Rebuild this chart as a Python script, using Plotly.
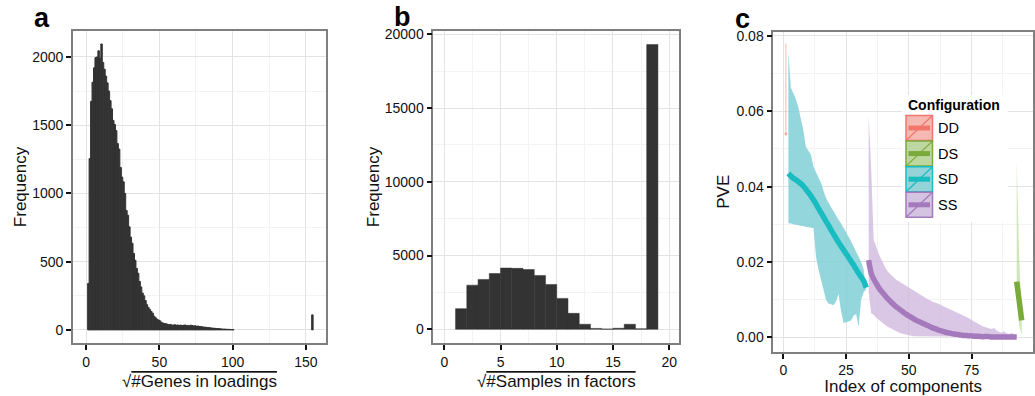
import plotly.graph_objects as go

# ---------------- data ----------------
# Panel a: histogram of sqrt(#genes in loadings), bin width 1
genes_bin_start = list(range(1, 101)) + [154]
genes_counts = [
    340, 1255, 1675, 1815, 1920, 1995, 2000, 2045, 1990, 2095,
    1960, 1910, 1860, 1810, 1750, 1680, 1620, 1535, 1505, 1460,
    1365, 1325, 1190, 1120, 1085, 1000, 875, 840, 755, 680,
    635, 560, 510, 450, 415, 355, 315, 270, 250, 215,
    185, 165, 150, 135, 122, 100, 88, 78, 72, 66,
    55, 50, 46, 45, 42, 38, 40, 36, 35, 38,
    34, 36, 33, 35, 32, 34, 36, 31, 33, 30,
    34, 32, 29, 30, 27, 28, 25, 24, 22, 20,
    20, 18, 17, 16, 14, 13, 12, 11, 10, 9,
    8, 7, 6, 6, 5, 4, 4, 3, 3, 2,
    110,
]

# Panel b: histogram of sqrt(#samples in factors), bin width 1
samples_bin_start = list(range(1, 19))
samples_counts = [1400, 2990, 3380, 3780, 4150, 4130, 4050, 3650, 3040, 2095,
                  1080, 340, 60, 20, 70, 340, 30, 19300]

# Panel c: PVE by index of components, per configuration
dd_idx = [1]
dd_pve = [0.054]
dd_lo = [0.0535]
dd_hi = [0.078]

ds_idx = [93, 94, 95]
ds_pve = [0.0148, 0.0097, 0.0045]
ds_lo = [0.011, 0.003, 0.0005]
ds_hi = [0.047, 0.021, 0.006]

sd_idx = list(range(2, 34))
sd_pve = [0.0435, 0.0428, 0.0422, 0.0418, 0.0413, 0.0408, 0.0401, 0.0393, 0.0384, 0.0375,
          0.0365, 0.0354, 0.0342, 0.0331, 0.0320, 0.0308, 0.0297, 0.0285, 0.0274, 0.0263,
          0.0252, 0.0242, 0.0232, 0.0222, 0.0212, 0.0202, 0.0192, 0.0181, 0.0170, 0.0160,
          0.0150, 0.0132]
sd_lo = [0.0303, 0.0302, 0.0300, 0.0298, 0.0296, 0.0295, 0.0294, 0.0293, 0.0292, 0.0291,
         0.0290, 0.0215, 0.0180, 0.0150, 0.0125, 0.0100, 0.0090, 0.0088, 0.0085, 0.0095,
         0.0115, 0.0070, 0.0038, 0.0040, 0.0042, 0.0045, 0.0058, 0.0062, 0.0028, 0.0100,
         0.0120, 0.0128]
sd_hi = [0.0759, 0.0662, 0.0648, 0.0632, 0.0610, 0.0580, 0.0548, 0.0505, 0.0495, 0.0485,
         0.0453, 0.0440, 0.0425, 0.0410, 0.0390, 0.0370, 0.0357, 0.0345, 0.0333, 0.0322,
         0.0312, 0.0302, 0.0290, 0.0280, 0.0270, 0.0255, 0.0241, 0.0228, 0.0215, 0.0200,
         0.0180, 0.0140]

ss_idx = list(range(34, 94))
ss_pve = [0.0205, 0.0170, 0.0155, 0.0143, 0.0132, 0.0123, 0.0115, 0.0107, 0.0100, 0.0093,
          0.0087, 0.0081, 0.0076, 0.0071, 0.0066, 0.0061, 0.0057, 0.0053, 0.0049, 0.0045,
          0.0042, 0.0039, 0.0036, 0.0033, 0.0030, 0.0027, 0.0024, 0.0022, 0.0019, 0.0017,
          0.0015, 0.0013, 0.0012, 0.0010, 0.0009, 0.0008, 0.0007, 0.0006, 0.0005, 0.0005,
          0.0004, 0.0004, 0.0003, 0.0003, 0.0003, 0.0002, 0.0002, 0.0002, 0.0002, 0.0001,
          0.0001, 0.0001, 0.0001, 0.0001, 0.0001, 0.0001, 0.0001, 0.0001, 0.0001, 0.0001]
ss_lo = [0.0120, 0.0064, 0.0060, 0.0052, 0.0046, 0.0040, 0.0036, 0.0031, 0.0027, 0.0022,
         0.0019, 0.0016, 0.0013, 0.0010, 0.0008, 0.0006, 0.0005, 0.0004, 0.0003, 0.0002,
         0.0001, 0.0001, 0.0001, 0.0001, 0.0001, 0.0001, 0.0001, 0.0001, 0.0001, 0.0001,
         0.0001, 0.0001, 0.0001, 0.0001, 0.0001, 0.0001, 0.0001, 0.0001, 0.0001, 0.0001,
         0.0001, 0.0001, 0.0001, 0.0001, 0.0001, 0.0001, 0.0001, 0.0001, 0.0001, 0.0001,
         0.0001, 0.0001, 0.0001, 0.0001, 0.0001, 0.0001, 0.0001, 0.0001, 0.0001, 0.0001]
ss_hi = [0.0590, 0.0450, 0.0260, 0.0238, 0.0222, 0.0207, 0.0193, 0.0181, 0.0172, 0.0165,
         0.0158, 0.0153, 0.0149, 0.0145, 0.0141, 0.0137, 0.0134, 0.0130, 0.0126, 0.0121,
         0.0117, 0.0113, 0.0108, 0.0103, 0.0099, 0.0096, 0.0093, 0.0091, 0.0089, 0.0086,
         0.0082, 0.0079, 0.0077, 0.0073, 0.0070, 0.0067, 0.0064, 0.0061, 0.0057, 0.0054,
         0.0050, 0.0046, 0.0042, 0.0037, 0.0033, 0.0031, 0.0028, 0.0026, 0.0024, 0.0022,
         0.0025, 0.0018, 0.0014, 0.0012, 0.0016, 0.0010, 0.0009, 0.0012, 0.0008, 0.0006]

config_names = ["DD", "DS", "SD", "SS"]
config_line = ["#F3766C", "#7AAA3A", "#19BCC0", "#A57ABC"]
config_key_fill = ["#F5B9B4", "#BED7A0", "#94D4D8", "#D4C3E1"]
config_ribbon = ["rgba(243,118,108,0.35)", "rgba(150,200,100,0.45)",
                 "rgba(120,205,212,0.80)", "rgba(205,180,220,0.75)"]

# ---------------- figure ----------------
W, H = 1035, 396
FONT = "Liberation Sans, Arial, Helvetica, sans-serif"
BAR = "#333333"


def px(x):
    return x / W


def py(y):
    return 1 - y / H


fig = go.Figure()

# Panel a histogram
fig.add_trace(go.Bar(
    x=[s + 0.5 for s in genes_bin_start], y=genes_counts, width=1,
    marker=dict(color=BAR, line=dict(color=BAR, width=1)),
    xaxis="x", yaxis="y", showlegend=False))

# Panel b histogram
fig.add_trace(go.Bar(
    x=[s + 0.5 for s in samples_bin_start], y=samples_counts, width=1,
    marker=dict(color=BAR, line=dict(color=BAR, width=0.5)),
    xaxis="x2", yaxis="y2", showlegend=False))


def ribbon(idx, lo, hi, color):
    return go.Scatter(
        x=list(idx) + list(idx)[::-1], y=list(hi) + list(lo)[::-1],
        fill="toself", fillcolor=color, mode="lines", line=dict(width=0),
        xaxis="x3", yaxis="y3", showlegend=False, hoverinfo="skip")


# DD: single component - thin vertical band plus tiny point
fig.add_trace(go.Scatter(x=dd_idx * 2, y=[dd_lo[0], dd_hi[0]], mode="lines",
                         line=dict(color=config_ribbon[0], width=1.5),
                         xaxis="x3", yaxis="y3", showlegend=False))
fig.add_trace(go.Scatter(x=dd_idx, y=dd_pve, mode="markers",
                         marker=dict(color="rgba(243,118,108,0.5)", size=3),
                         xaxis="x3", yaxis="y3", showlegend=False))

fig.add_trace(ribbon(sd_idx, sd_lo, sd_hi, config_ribbon[2]))
fig.add_trace(ribbon(ss_idx, ss_lo, ss_hi, config_ribbon[3]))
fig.add_trace(ribbon(ds_idx, ds_lo, ds_hi, config_ribbon[1]))

for idx, vals, col in [(sd_idx, sd_pve, config_line[2]),
                       (ss_idx, ss_pve, config_line[3]),
                       (ds_idx, ds_pve, config_line[1])]:
    fig.add_trace(go.Scatter(x=idx, y=vals, mode="lines",
                             line=dict(color=col, width=5.5, shape="spline", smoothing=0.6),
                             xaxis="x3", yaxis="y3", showlegend=False))

# ---------------- axes ----------------
GRID = "#E3E3E3"
MINOR = "#F3F3F3"


def ax(domain, rng, dtick, minor_dtick, anchor, tickfmt=None):
    d = dict(domain=domain, range=rng, anchor=anchor, dtick=dtick, tick0=0,
             showgrid=True, gridcolor=GRID, gridwidth=1.3,
             minor=dict(dtick=minor_dtick, tick0=0, showgrid=True,
                        gridcolor=MINOR, gridwidth=1.0, ticks=""),
             zeroline=False, showline=True, mirror=True,
             linecolor="#7F7F7F", linewidth=1.6, automargin=False,
             ticks="outside", ticklen=5, tickwidth=1.8, tickcolor="#111111",
             tickfont=dict(family=FONT, size=14, color="#111111"),
             fixedrange=True)
    if tickfmt:
        d["tickformat"] = tickfmt
    return d


ya_dom = [py(343), py(31)]
yc_dom = [py(351.7), py(31.7)]

layout = dict(
    template="none",
    width=W, height=H, margin=dict(l=0, r=0, t=0, b=0, autoexpand=False),
    paper_bgcolor="white", plot_bgcolor="white",
    font=dict(family=FONT, color="#111111"),
    xaxis=ax([px(73), px(326)], [-9, 163.8], 50, 25, "y", "d"),
    yaxis=ax(ya_dom, [-96, 2190], 500, 250, "x", "d"),
    xaxis2=ax([px(433.3), px(679.3)], [-0.98, 20.9], 5, 2.5, "y2", "d"),
    yaxis2=ax(ya_dom, [-930, 20220], 5000, 2500, "x2", "d"),
    xaxis3=ax([px(773.3), px(1033)], [-4, 99.5], 25, 12.5, "y3", "d"),
    yaxis3=ax(yc_dom, [-0.0038, 0.0811], 0.02, 0.01, "x3", ".2f"),
    showlegend=False,
)
layout["yaxis"]["title"] = dict(text="Frequency", font=dict(size=17))
layout["yaxis2"]["title"] = dict(text="Frequency", font=dict(size=17))
layout["yaxis3"]["title"] = dict(text="PVE", font=dict(size=17))
layout["xaxis3"]["title"] = dict(text="Index of components", font=dict(size=17))
fig.update_layout(**layout)

annotations = []
# x titles with radical sign
for xc, label in [((73 + 326) / 2, "#Genes in loadings"),
                  ((433.3 + 679.3) / 2, "#Samples in factors")]:
    annotations.append(dict(
        x=px(xc), y=py(381), xref="paper", yref="paper", showarrow=False,
        xanchor="center", yanchor="middle",
        text="√<span style='text-decoration:overline'>" + label + "</span>",
        font=dict(family=FONT, size=17, color="#111111")))

# panel letters
for x0, y0, letter in [(42, 18, "a"), (402, 17, "b"), (742, 19, "c")]:
    annotations.append(dict(
        x=px(x0), y=py(y0), xref="paper", yref="paper", showarrow=False,
        xanchor="center", yanchor="middle", text="<b>" + letter + "</b>",
        font=dict(family=FONT, size=27, color="black")))

# legend (ggplot-style keys)
shapes = []
shapes.append(dict(type="rect", xref="paper", yref="paper",
                   x0=px(902), x1=px(1008), y0=py(222), y1=py(95),
                   fillcolor="white", line=dict(width=0), layer="above"))
annotations.append(dict(x=px(906), y=py(105), xref="paper", yref="paper",
                        showarrow=False, xanchor="left", yanchor="middle",
                        text="<b>Configuration</b>",
                        font=dict(family=FONT, size=14, color="black")))
key_top0, key_h, key_l, key_r = 115.5, 25.6, 906, 932.5
for i, name in enumerate(config_names):
    t = key_top0 + i * key_h
    b = t + key_h - 0.6
    mid = (t + b) / 2
    shapes.append(dict(type="rect", xref="paper", yref="paper",
                       x0=px(key_l), x1=px(key_r), y0=py(b), y1=py(t),
                       fillcolor=config_key_fill[i],
                       line=dict(color=config_line[i], width=1.5), layer="above"))
    shapes.append(dict(type="line", xref="paper", yref="paper",
                       x0=px(key_l), x1=px(key_r), y0=py(b), y1=py(t),
                       line=dict(color=config_line[i], width=1.2), layer="above"))
    shapes.append(dict(type="line", xref="paper", yref="paper",
                       x0=px(key_l + 2.5), x1=px(key_r - 2.5), y0=py(mid), y1=py(mid),
                       line=dict(color=config_line[i], width=5), layer="above"))
    annotations.append(dict(x=px(936), y=py(mid), xref="paper", yref="paper",
                            showarrow=False, xanchor="left", yanchor="middle",
                            text=name, font=dict(family=FONT, size=14.5, color="black")))

fig.update_layout(annotations=annotations, shapes=shapes)

fig.write_html("out.html", config={"displayModeBar": False},
               post_script="document.body.style.margin='0px';")
